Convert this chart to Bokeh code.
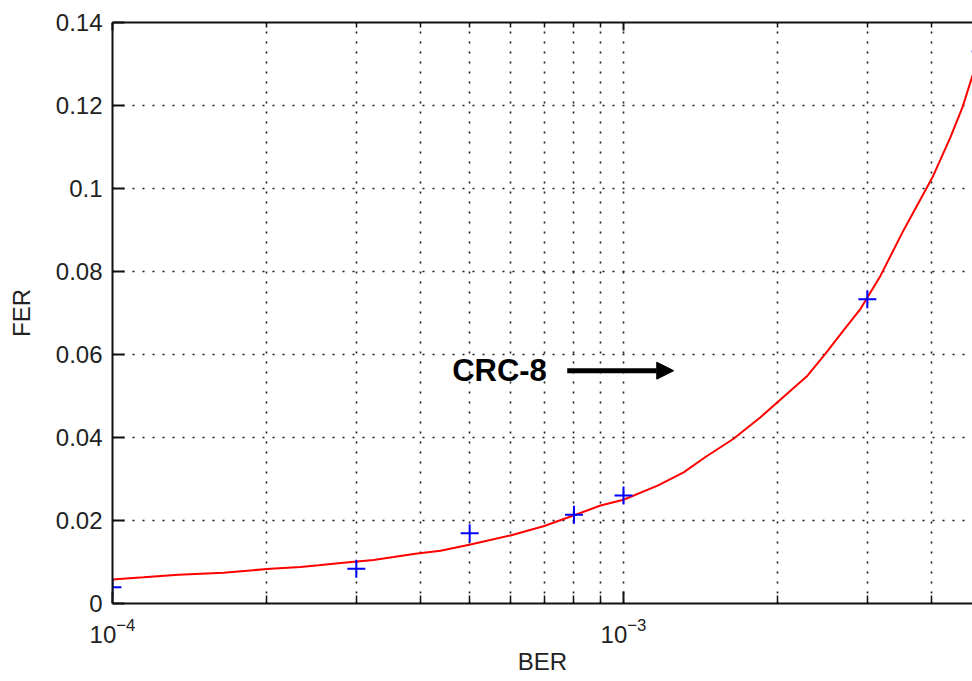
import numpy as np
from bokeh.plotting import figure
from bokeh.models import Range1d, LogAxis, FixedTicker, Arrow, NormalHead, Label
from bokeh.embed import file_html
from bokeh.resources import INLINE

# measured points (blue '+')
ber_meas = [1e-4, 3e-4, 5e-4, 8e-4, 1e-3, 3e-3, 5e-3]
fer_meas = [0.0039, 0.0084, 0.0169, 0.0214, 0.0260, 0.0733, 0.133]

# fitted curve (red)
ber_fit = [1.000e-4, 1.150e-4, 1.346e-4, 1.649e-4, 1.837e-4, 2.038e-4, 2.333e-4,
           2.530e-4, 2.832e-4, 3.242e-4, 3.548e-4, 3.917e-4, 4.385e-4, 5.018e-4,
           6.009e-4, 6.971e-4, 7.984e-4, 9.016e-4, 1.000e-3, 1.166e-3, 1.311e-3,
           1.447e-3, 1.642e-3, 1.854e-3, 2.001e-3, 2.291e-3, 2.485e-3, 2.695e-3,
           2.910e-3, 3.184e-3, 3.531e-3, 4.024e-3, 4.364e-3, 4.607e-3, 4.819e-3,
           5.000e-3]
fer_fit = [0.0058, 0.0063, 0.0069, 0.0074, 0.0079, 0.0084, 0.0088,
           0.0092, 0.0098, 0.0105, 0.0112, 0.0120, 0.0127, 0.0142,
           0.0164, 0.0186, 0.0212, 0.0236, 0.0250, 0.0284, 0.0316,
           0.0353, 0.0397, 0.0449, 0.0485, 0.0549, 0.0602, 0.0658,
           0.0710, 0.0790, 0.0899, 0.1027, 0.1124, 0.1196, 0.1272,
           0.1310]

x_major = [1e-4, 1e-3, 1e-2]
x_minor = [2e-4, 3e-4, 4e-4, 5e-4, 6e-4, 7e-4, 8e-4, 9e-4,
           2e-3, 3e-3, 4e-3, 5e-3, 6e-3, 7e-3, 8e-3, 9e-3]
y_ticks = [0.0, 0.02, 0.04, 0.06, 0.08, 0.10, 0.12, 0.14]
y_labels = ["0", "0.02", "0.04", "0.06", "0.08", "0.1", "0.12", "0.14"]

x_start, x_end = 1e-4, 4.819e-3
y_start, y_end = 0.0, 0.14

annot_text = "CRC-8"
annot_text_x, annot_y = 4.62e-4, 0.0561
arrow_x0, arrow_x1 = 7.76e-4, 1.254e-3

FONT = "Liberation Sans"
TXT = "#222222"

p = figure(width=972, height=681, x_axis_type="log",
           x_range=Range1d(x_start, x_end), y_range=Range1d(y_start, y_end),
           output_backend="svg", toolbar_location=None,
           min_border_left=112, min_border_right=0, min_border_top=22,
           min_border_bottom=78)
p.outline_line_color = None
p.background_fill_color = "white"
p.border_fill_color = "white"

xt = FixedTicker(ticks=x_major, minor_ticks=x_minor)
yt = FixedTicker(ticks=y_ticks, minor_ticks=[])

xa = p.xaxis[0]
xa.ticker = xt
xa.axis_line_width = 2
xa.axis_line_color = "#111111"
xa.major_tick_in = 12
xa.major_tick_out = 0
xa.minor_tick_in = 8
xa.minor_tick_out = 0
xa.major_tick_line_width = 2
xa.minor_tick_line_width = 1.5
xa.major_tick_line_color = "#111111"
xa.minor_tick_line_color = "#111111"
xa.major_label_text_font = FONT
xa.major_label_text_font_size = "24px"
xa.major_label_text_color = TXT
xa.major_label_standoff = 14
xa.axis_label = "BER"
xa.axis_label_text_font = FONT
xa.axis_label_text_font_size = "24px"
xa.axis_label_text_font_style = "normal"
xa.axis_label_text_color = TXT
xa.axis_label_standoff = 2

ya = p.yaxis[0]
ya.ticker = yt
ya.axis_line_width = 2
ya.axis_line_color = "#111111"
ya.major_tick_in = 12
ya.major_tick_out = 0
ya.minor_tick_in = 0
ya.minor_tick_out = 0
ya.major_tick_line_width = 2
ya.major_tick_line_color = "#111111"
ya.major_label_overrides = {t: l for t, l in zip(y_ticks, y_labels)}
ya.major_label_text_font = FONT
ya.major_label_text_font_size = "24px"
ya.major_label_text_color = TXT
ya.major_label_standoff = 10
ya.axis_label = "FER"
ya.axis_label_text_font = FONT
ya.axis_label_text_font_size = "24px"
ya.axis_label_text_font_style = "normal"
ya.axis_label_text_color = TXT
ya.axis_label_standoff = 18

top = LogAxis(ticker=xt, axis_line_width=2, axis_line_color="#111111",
              major_tick_in=8, major_tick_out=0, minor_tick_in=5, minor_tick_out=0,
              major_tick_line_width=2, minor_tick_line_width=1.5,
              major_tick_line_color="#111111", minor_tick_line_color="#111111",
              major_label_text_font_size="2px", major_label_text_color=None,
              major_label_standoff=0)
p.add_layout(top, "above")

p.xgrid.ticker = xt
p.ygrid.ticker = yt
for g in (p.xgrid[0], p.ygrid[0]):
    g.grid_line_color = "#1a1a1a"
    g.grid_line_dash = "2 8"
    g.grid_line_width = 1.6
p.xgrid[0].minor_grid_line_color = "#1a1a1a"
p.xgrid[0].minor_grid_line_dash = "2 8"
p.xgrid[0].minor_grid_line_width = 1.6

p.line(ber_fit, fer_fit, line_color="#ff0000", line_width=2)
p.scatter(ber_meas, fer_meas, marker="cross", size=18, line_color="#0000ff",
          line_width=2)

p.add_layout(Label(x=annot_text_x, y=annot_y, text=annot_text,
                   text_font=FONT, text_font_size="31px", text_font_style="bold",
                   text_color="#000000", text_baseline="middle", text_align="left"))
p.add_layout(Arrow(x_start=arrow_x0, y_start=annot_y, x_end=arrow_x1, y_end=annot_y,
                   line_width=5, line_color="#000000",
                   end=NormalHead(size=17, fill_color="#000000", line_color="#000000",
                                  line_width=1)))

open("out.html", "w").write(file_html(p, INLINE))
